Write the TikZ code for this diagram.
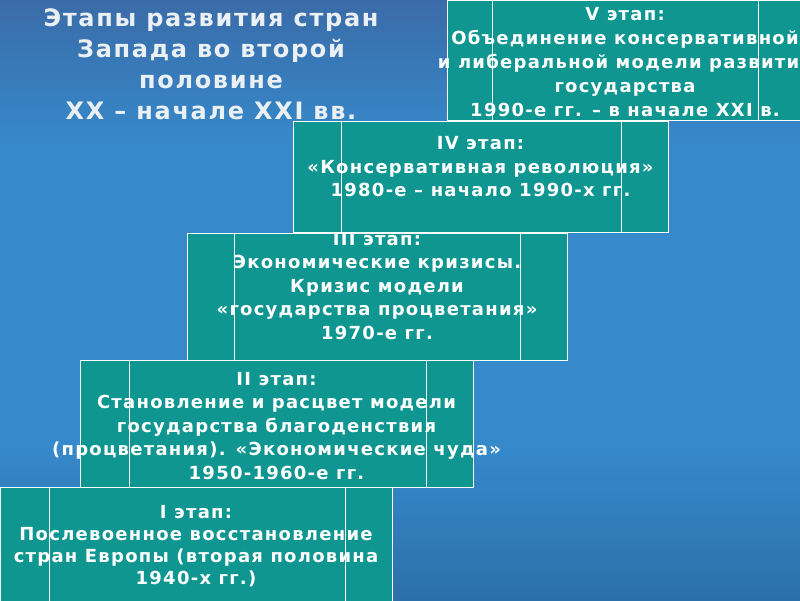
\documentclass[tikz,border=0pt]{standalone}
\usepackage{fontspec}
\setmainfont{DejaVu Sans}
\newfontfamily\boxfam{DejaVu Sans}[LetterSpace=7]
\newfontfamily\titlefam{DejaVu Sans}[LetterSpace=7]
\usetikzlibrary{calc}
\definecolor{tealbox}{RGB}{16,150,145}
\definecolor{bgtop}{RGB}{58,108,168}
\definecolor{bgmid}{RGB}{54,138,204}
\definecolor{bgbot}{RGB}{44,112,170}
\definecolor{titlec}{RGB}{234,240,244}
\begin{document}
\begin{tikzpicture}[x=1pt,y=-1pt,
  stage/.style={draw=white, line width=1pt, fill=tealbox, rectangle, inner sep=0pt, anchor=north west},
  stagetext/.style={text=white, align=center, inner sep=0pt, font=\boxfam\bfseries\fontsize{18}{23.5}\selectfont},
  titletext/.style={text=titlec, align=center, inner sep=0pt, font=\titlefam\bfseries\fontsize{24}{31}\selectfont},
  divider/.style={draw=white, line width=0.9pt}]
\useasboundingbox (0,0) rectangle (800,600);
\fill[top color=bgtop, bottom color=bgmid] (0,0) rectangle (800,150.5);
\fill[bgmid] (0,150) rectangle (800,440.5);
\fill[top color=bgmid, bottom color=bgbot] (0,440) rectangle (800,600);

% title
\node[titletext] (title) at (211,64) {Этапы развития стран\\Запада во второй\\половине\\XX – начале XXI вв.};

% stage V
\node[stage, minimum width=356pt, minimum height=120pt] (s5) at (447,0) {};
\draw[divider] ($(s5.north west)+(45,0)$) -- ($(s5.south west)+(45,0)$);
\draw[divider] ($(s5.north east)+(-46,0)$) -- ($(s5.south east)+(-46,0)$);
\node[stagetext, font=\boxfam\bfseries\fontsize{18}{24.2}\selectfont] (t5) at (625,62) {V этап:\\Объединение консервативной\\и либеральной модели развития\\государства\\1990-е гг. – в начале XXI в.};

% stage I
\node[stage, minimum width=392pt, minimum height=114pt] (s1) at (0,487) {};
\draw[divider] ($(s1.north west)+(49,0)$) -- ($(s1.south west)+(49,0)$);
\draw[divider] ($(s1.north east)+(-48,0)$) -- ($(s1.south east)+(-48,0)$);
\node[stagetext, font=\boxfam\bfseries\fontsize{18}{22.2}\selectfont] (t1) at (196,546) {I этап:\\Послевоенное восстановление\\стран Европы (вторая половина\\1940-х гг.)};

% stage II
\node[stage, minimum width=393pt, minimum height=127pt] (s2) at (80,360) {};
\draw[divider] ($(s2.north west)+(49,0)$) -- ($(s2.south west)+(49,0)$);
\draw[divider] ($(s2.north east)+(-48,0)$) -- ($(s2.south east)+(-48,0)$);
\node[stagetext] (t2) at (276.5,426) {II этап:\\Становление и расцвет модели\\государства благоденствия\\(процветания). «Экономические чуда»\\1950-1960-е гг.};

% stage III
\node[stage, minimum width=380pt, minimum height=127pt] (s3) at (187,233) {};
\draw[divider] ($(s3.north west)+(47,0)$) -- ($(s3.south west)+(47,0)$);
\draw[divider] ($(s3.north east)+(-48,0)$) -- ($(s3.south east)+(-48,0)$);
\node[stagetext] (t3) at (377,286) {III этап:\\Экономические кризисы.\\Кризис модели\\«государства процветания»\\1970-е гг.};

% stage IV
\node[stage, minimum width=375pt, minimum height=111pt] (s4) at (293,121) {};
\draw[divider] ($(s4.north west)+(48,0)$) -- ($(s4.south west)+(48,0)$);
\draw[divider] ($(s4.north east)+(-48,0)$) -- ($(s4.south east)+(-48,0)$);
\node[stagetext] (t4) at (480.5,167) {IV этап:\\«Консервативная революция»\\1980-е – начало 1990-х гг.};
\end{tikzpicture}
\end{document}
